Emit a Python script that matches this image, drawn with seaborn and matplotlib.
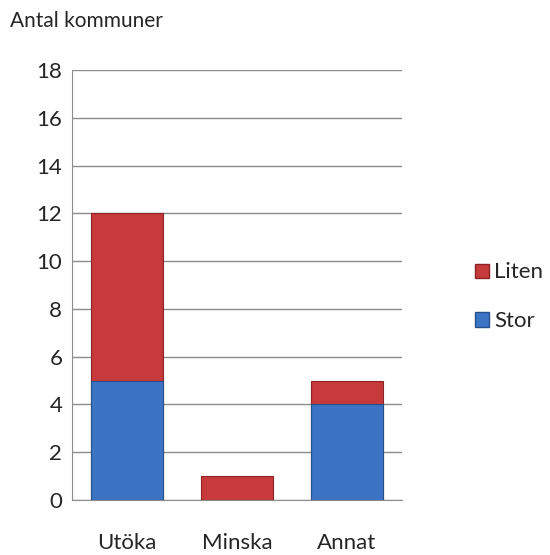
import matplotlib
matplotlib.use("Agg")
import matplotlib.pyplot as plt
import matplotlib.patches as mpatches
import pandas as pd
import seaborn as sns

categories = ["Utöka", "Minska", "Annat"]
stor = [5, 0, 4]
liten = [7, 1, 1]
yticks = [0, 2, 4, 6, 8, 10, 12, 14, 16, 18]

red = "#C63A3B"
blue = "#3C73C2"

df = pd.DataFrame({"kategori": categories, "Stor": stor, "Liten": liten})
df["Totalt"] = df["Stor"] + df["Liten"]

sns.set_style("white")
plt.rcParams["font.family"] = ["Lato", "DejaVu Sans"]

fig = plt.figure(figsize=(5.5, 5.55), dpi=100)
ax = fig.add_axes([0.131, 0.099, 0.6, 0.775])

# stacked: total first (red), then Stor on top of it (blue)
sns.barplot(data=df, x="kategori", y="Totalt", color=red, width=0.65,
            saturation=1, edgecolor="#8E2325", linewidth=0.8, ax=ax, zorder=3)
sns.barplot(data=df, x="kategori", y="Stor", color=blue, width=0.65,
            saturation=1, edgecolor="#25508E", linewidth=0.8, ax=ax, zorder=4)

ax.set_ylim(0, 18)
ax.set_yticks(yticks)
ax.set_xlim(-0.5, 2.5)
ax.yaxis.grid(True, color="#8C8C8C", linewidth=1)
ax.set_axisbelow(True)
for s in ["top", "right"]:
    ax.spines[s].set_visible(False)
ax.spines["left"].set_color("#8C8C8C")
ax.spines["bottom"].set_color("#8C8C8C")
ax.tick_params(axis="both", labelsize=16, length=0)
ax.tick_params(axis="y", pad=7)
ax.tick_params(axis="x", pad=24)
ax.set_xlabel("")
ax.set_ylabel("")

fig.text(0.018, 0.962, "Antal kommuner", fontsize=15, ha="left", va="center")

handles = [mpatches.Patch(facecolor=red, edgecolor="#8E2325", label="Liten"),
           mpatches.Patch(facecolor=blue, edgecolor="#25508E", label="Stor")]
fig.legend(handles=handles, loc="center left", bbox_to_anchor=(0.828, 0.465),
           frameon=False, fontsize=16, handlelength=0.6, handleheight=0.6,
           handletextpad=0.25, labelspacing=1.3)

fig.savefig("out.png", dpi=100)
